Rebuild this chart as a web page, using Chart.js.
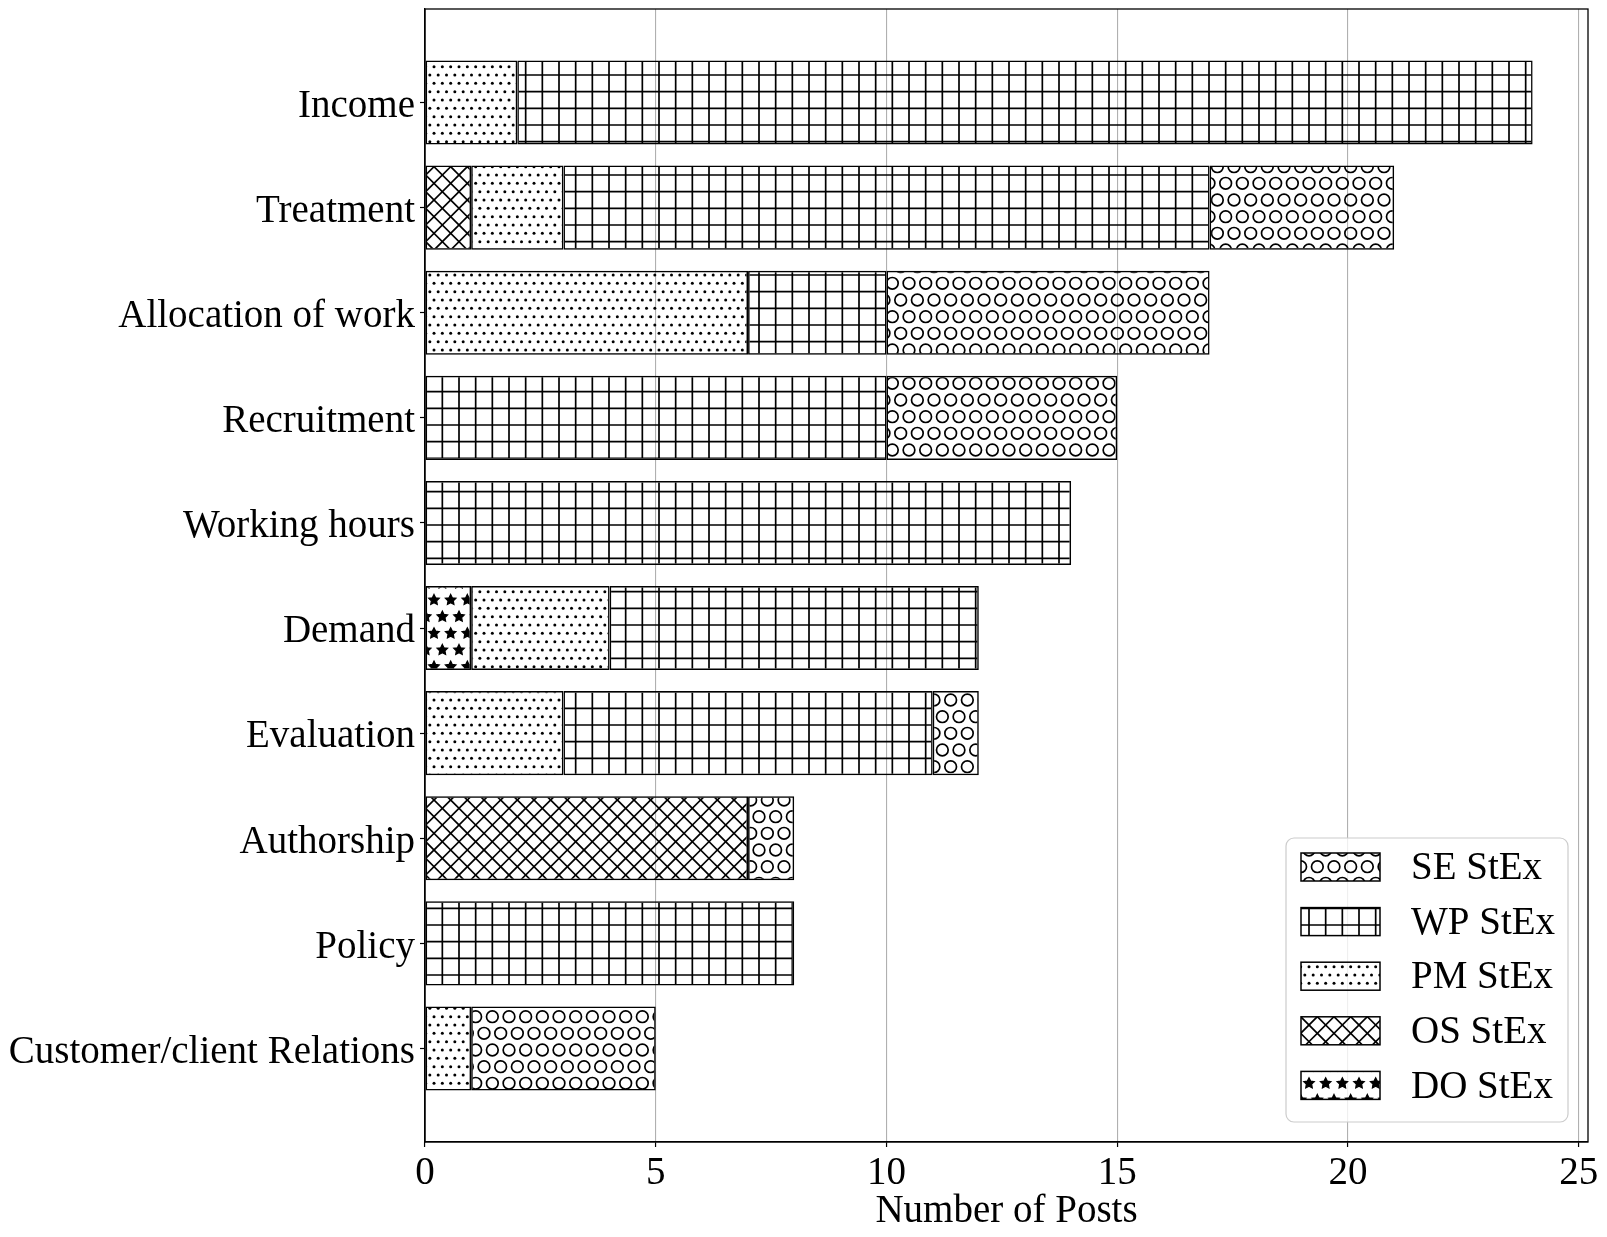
<!DOCTYPE html>
<html><head><meta charset="utf-8">
<script src="https://cdn.jsdelivr.net/npm/chart.js@4/dist/chart.umd.min.js"></script>
<style>html,body{margin:0;padding:0;background:#fff;} canvas{display:block;}</style>
</head><body>
<canvas id="c" width="1607" height="1237"></canvas>
<script>
// ---- data ----
const categories = ['Income','Treatment','Allocation of work','Recruitment','Working hours','Demand','Evaluation','Authorship','Policy','Customer/client Relations'];
const seriesNames = ['DO StEx','OS StEx','PM StEx','WP StEx','SE StEx'];
const doValues = [0,0,0,0,0,1,0,0,0,0];
const osValues = [0,1,0,0,0,0,0,7,0,0];
const pmValues = [2,2,7,0,0,3,3,0,0,1];
const wpValues = [22,14,3,10,14,8,8,0,8,0];
const seValues = [0,4,7,5,0,0,1,1,0,4];
const xTickValues = [0,5,10,15,20,25];
const seriesValues = [doValues, osValues, pmValues, wpValues, seValues];
const seriesHatch = ['stars','cross','dots','grid','circles'];

const FONT = "'Liberation Serif','Times New Roman',serif";
const canvas = document.getElementById('c');
const mainCtx = canvas.getContext('2d');

// ---- hatch patterns (anchored to canvas origin) ----
const P = 100/6, X0 = 0.67;
function makeTile(fn){
  const c = document.createElement('canvas'); c.width = 100; c.height = 100;
  const g = c.getContext('2d');
  g.strokeStyle = '#000'; g.fillStyle = '#000'; g.lineWidth = 1.7;
  fn(g);
  return mainCtx.createPattern(c, 'repeat');
}
function line(g,x1,y1,x2,y2){ g.beginPath(); g.moveTo(x1,y1); g.lineTo(x2,y2); g.stroke(); }
function shapeGrid(g, step, draw){
  const n = Math.round(100/step);
  for (let j=-1;j<=n+1;j++){
    const y = j*step; const off = (((j%2)+2)%2) ? step/2 : 0;
    for (let k=-2;k<=n+1;k++){ draw(g, X0+off+k*step, y); }
  }
}
const patterns = {
  grid: makeTile(g => {
    for (let k=-1;k<=7;k++){ const x = X0+P/2+k*P; line(g,x,-5,x,105); const y = P/2+k*P; line(g,-5,y,105,y); }
  }),
  cross: makeTile(g => {
    for (let k=-14;k<=14;k++){ const c = X0+k*P; line(g,c+100,-100,c-200,200); line(g,c-100,-100,c+200,200); }
  }),
  dots: makeTile(g => shapeGrid(g, P/2, (g,x,y) => { g.beginPath(); g.arc(x,y,1.5,0,Math.PI*2); g.fill(); })),
  circles: makeTile(g => shapeGrid(g, P, (g,x,y) => { g.beginPath(); g.arc(x,y,0.35*P,0,Math.PI*2); g.stroke(); })),
  stars: makeTile(g => shapeGrid(g, P, (g,x,y) => {
    const R = P/3, r = R*0.5; g.beginPath();
    for (let i=0;i<10;i++){ const a = -Math.PI/2 + i*Math.PI/5; const rr = i%2 ? r : R; const px = x+rr*Math.cos(a), py = y+rr*Math.sin(a); if(i) g.lineTo(px,py); else g.moveTo(px,py); }
    g.closePath(); g.fill(); g.lineWidth = 1.2; g.stroke();
  }))
};

const datasets = seriesNames.map((name, s) => ({
  label: name,
  data: seriesValues[s].map((v,i) => ({x: v, y: i})).filter(p => p.x > 0),
  backgroundColor: patterns[seriesHatch[s]],
  borderColor: '#000',
  borderWidth: 1.5,
  borderSkipped: false,
  categoryPercentage: 1,
  barPercentage: 0.8
}));

const framePlugin = {
  id: 'frame',
  afterDatasetsDraw(chart){
    const {ctx, chartArea:a} = chart;
    ctx.save(); ctx.strokeStyle = '#000'; ctx.lineWidth = 1.3;
    ctx.strokeRect(a.left, a.top, a.right-a.left, a.bottom-a.top);
    ctx.restore();
  }
};

const legendPlugin = {
  id: 'hatchLegend',
  afterDraw(chart){
    const {ctx, chartArea:a} = chart;
    const w = 282, h = 284;
    const right = a.right - 20, bottom = a.bottom - 20;
    const left = right - w, top = bottom - h;
    ctx.save();
    ctx.beginPath();
    if (ctx.roundRect) ctx.roundRect(left, top, w, h, 8); else ctx.rect(left, top, w, h);
    ctx.fillStyle = 'rgba(255,255,255,0.8)'; ctx.fill();
    ctx.strokeStyle = '#cccccc'; ctx.lineWidth = 1.2; ctx.stroke();
    const items = chart.data.datasets.slice().reverse();
    items.forEach((ds, i) => {
      const cy = top + 29 + i*54.6;
      ctx.fillStyle = ds.backgroundColor;
      ctx.fillRect(left+15, cy-14, 79, 28);
      ctx.strokeStyle = '#000'; ctx.lineWidth = 1.5;
      ctx.strokeRect(left+15, cy-14, 79, 28);
      ctx.fillStyle = '#000'; ctx.font = '39px ' + FONT;
      ctx.textBaseline = 'middle'; ctx.textAlign = 'left';
      ctx.fillText(ds.label, left+125, cy+2);
    });
    ctx.restore();
  }
};

new Chart(canvas, {
  type: 'bar',
  data: { labels: categories, datasets },
  options: {
    indexAxis: 'y',
    responsive: false,
    animation: false,
    devicePixelRatio: 1,
    layout: { padding: { top: 9, right: 19, left: 0, bottom: 0 } },
    plugins: { legend: { display: false }, tooltip: { enabled: false } },
    scales: {
      x: {
        type: 'linear', stacked: true, min: 0, max: 25.2, position: 'bottom',
        afterBuildTicks: s => { s.ticks = xTickValues.map(v => ({value: v})); },
        afterFit: s => { s.height = 95; s.paddingLeft = 0; s.paddingRight = 0; },
        grid: { color: '#b0b0b0', lineWidth: 1.1, tickColor: '#000', tickLength: 5, tickWidth: 1.2 },
        border: { color: '#000', width: 1.3 },
        ticks: { font: { family: FONT, size: 39 }, color: '#000', padding: 3, maxRotation: 0, autoSkip: false },
        title: { display: true, text: 'Number of Posts', font: { family: FONT, size: 39 }, color: '#000', padding: { top: 0, bottom: 2 } }
      },
      y: {
        type: 'linear', stacked: true, reverse: true, min: -0.89, max: 9.89, offset: false,
        afterBuildTicks: s => { s.ticks = categories.map((_, i) => ({value: i})); },
        afterFit: s => { s.width = 425; s.paddingTop = 0; s.paddingBottom = 0; },
        grid: { drawOnChartArea: false, offset: false, tickColor: '#000', tickLength: 5, tickWidth: 1.2 },
        border: { color: '#000', width: 1.3 },
        ticks: { font: { family: FONT, size: 39 }, color: '#000', padding: 5, labelOffset: 4, autoSkip: false, callback: v => categories[v] }
      }
    }
  },
  plugins: [framePlugin, legendPlugin]
});
</script>
</body></html>
